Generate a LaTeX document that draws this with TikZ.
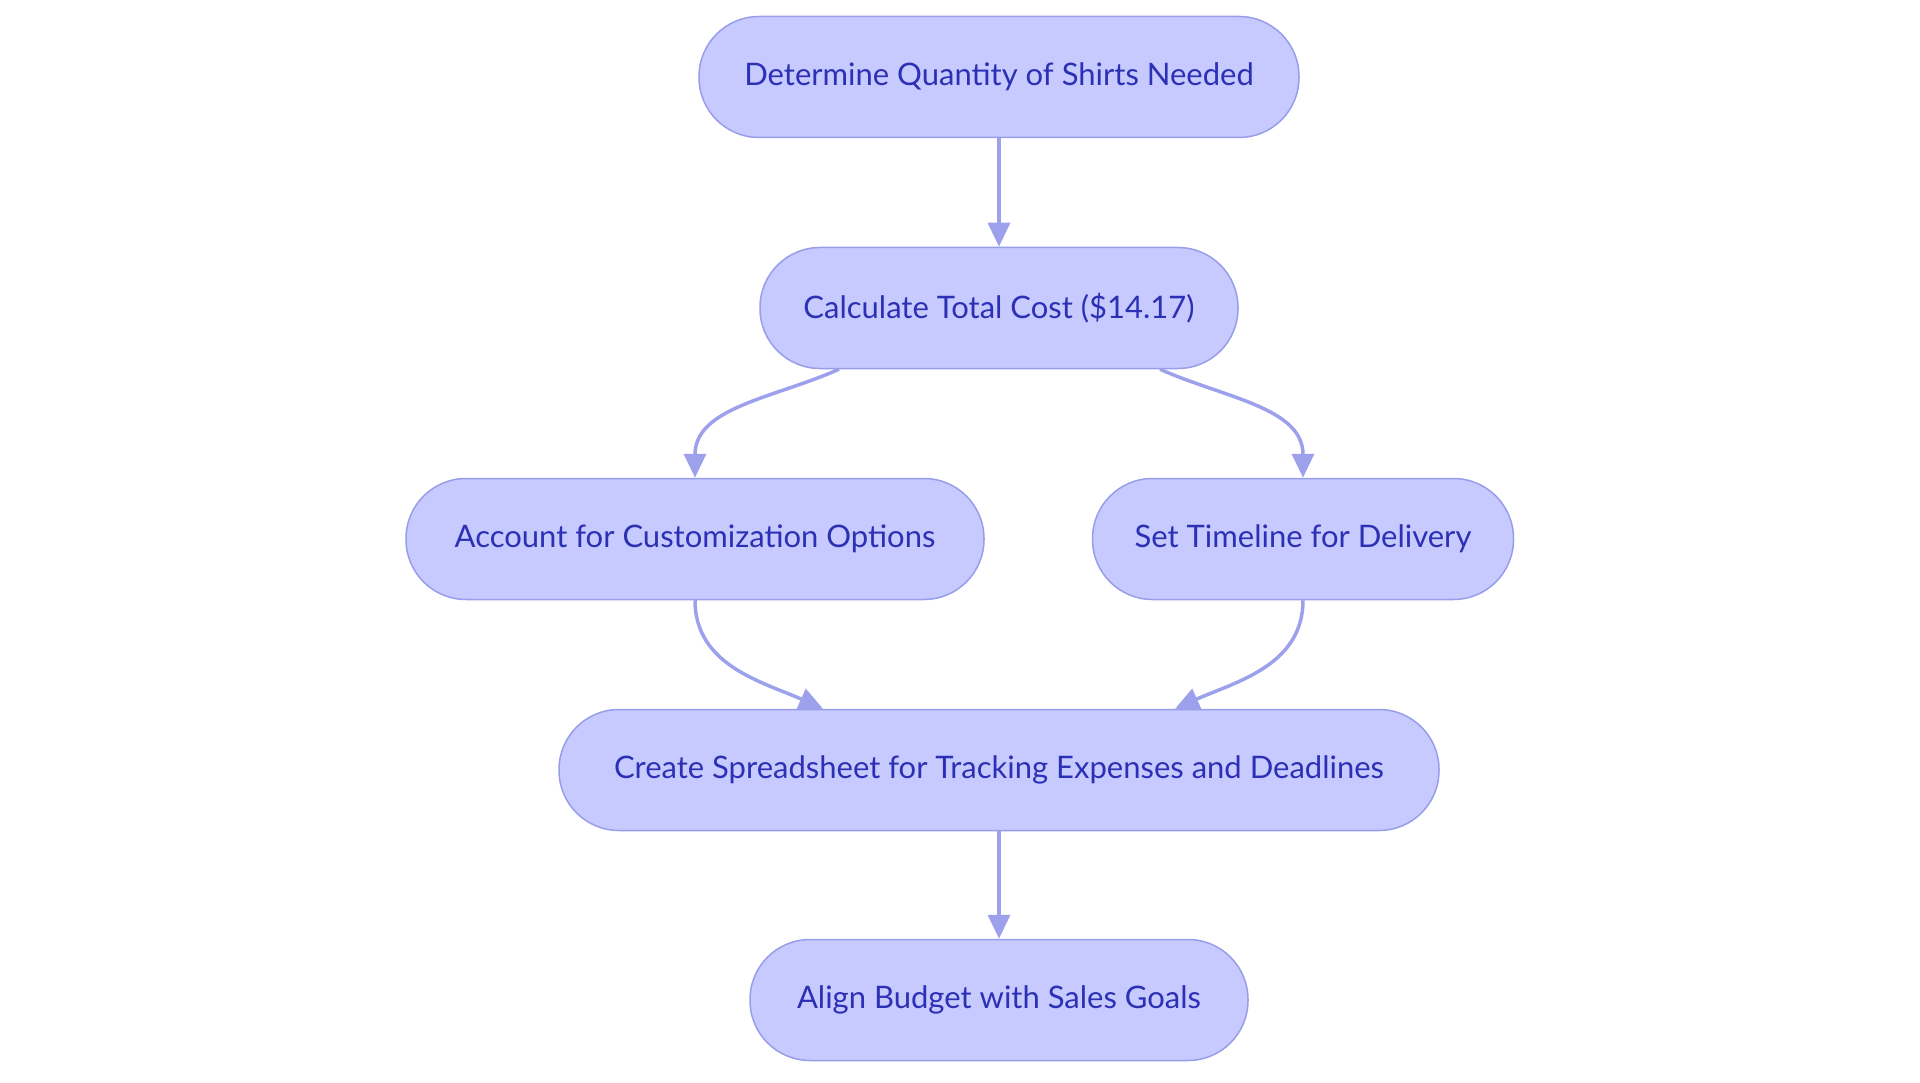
\documentclass[tikz,border=0pt]{standalone}
\usepackage{fontspec}
\setmainfont{Lato}
\usetikzlibrary{arrows.meta}
\definecolor{boxfill}{RGB}{199,202,254}
\definecolor{boxline}{RGB}{152,157,234}
\definecolor{boxtext}{RGB}{44,48,180}
\definecolor{arrowline}{RGB}{157,161,236}
\begin{document}
\begin{tikzpicture}[x=1pt,y=1pt]
\tikzstyle{every node}=[font=\fontsize{31}{36}\selectfont]
\tikzstyle{stepnode}=[draw=boxline,line width=1.5pt,fill=boxfill,text=boxtext,rounded corners=60pt,minimum height=121pt,inner xsep=10pt]
\tikzstyle{flow}=[draw=arrowline,line width=3.5pt,-{Triangle[length=24pt,width=22pt]}]

\useasboundingbox (0,0) rectangle (1920,-1083);

\node[stepnode,minimum width=600pt] (qty) at (999,-77) {Determine Quantity of Shirts Needed};
\node[stepnode,minimum width=478pt] (cost) at (999,-308) {Calculate Total Cost (\$14.17)};
\node[stepnode,minimum width=578pt] (custom) at (695,-539) {Account for Customization Options};
\node[stepnode,minimum width=421pt] (timeline) at (1303,-539) {Set Timeline for Delivery};
\node[stepnode,minimum width=880pt] (sheet) at (999,-770) {Create Spreadsheet for Tracking Expenses and Deadlines};
\node[stepnode,minimum width=498pt] (goals) at (999,-1000) {Align Budget with Sales Goals};

\path (qty) edge[flow] (cost);
\path ([xshift=-160pt]cost.south) edge[flow,out=-156,in=90] (custom.north);
\path ([xshift=161pt]cost.south) edge[flow,out=-24,in=90] (timeline.north);
\path (custom.south) edge[flow,out=-90,in=156] ([xshift=-176pt]sheet.north);
\path (timeline.south) edge[flow,out=-90,in=24] ([xshift=176pt]sheet.north);
\path (sheet) edge[flow] (goals);

\end{tikzpicture}
\end{document}
